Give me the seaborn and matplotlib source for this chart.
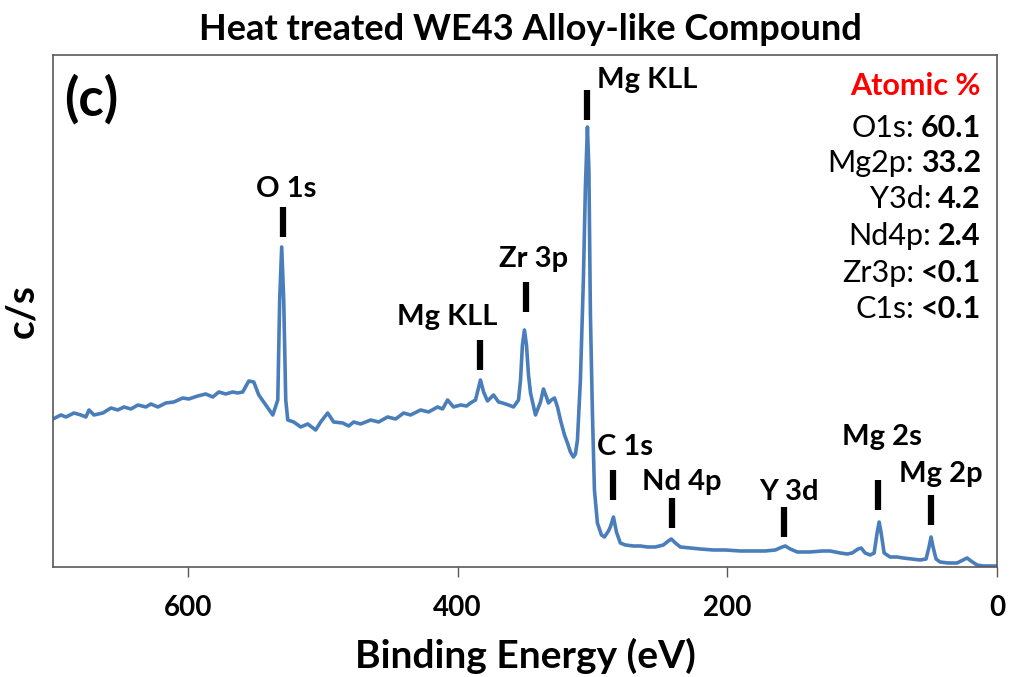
import matplotlib
matplotlib.use("Agg")
import matplotlib.pyplot as plt
import seaborn as sns
import pandas as pd

# XPS survey spectrum of the heat-treated WE43-like compound
binding_energy = [
    700.0, 694.1, 690.4, 684.4, 679.3, 675.6, 673.3, 669.6, 663.0, 657.0,
    651.9, 647.4, 642.2, 637.0, 631.1, 627.4, 622.2, 616.3, 610.4, 603.7,
    599.3, 592.6, 586.7, 581.5, 577.0, 571.9, 566.7, 563.0, 559.3, 554.8,
    551.1, 547.4, 542.2, 537.0, 533.3, 531.9, 530.4, 528.9, 527.4, 525.9,
    521.5, 516.3, 511.1, 505.2, 501.5, 496.3, 491.9, 485.2, 480.7, 477.0,
    471.9, 464.4, 458.5, 451.9, 445.9, 440.0, 434.8, 427.4, 421.5, 414.8,
    411.1, 407.4, 403.0, 397.8, 393.3, 390.4, 386.7, 385.2, 383.0, 380.7,
    377.8, 373.3, 369.6, 366.7, 362.2, 358.5, 354.8, 353.3, 351.9, 350.4,
    348.9, 347.4, 345.9, 342.2, 338.5, 336.3, 334.1, 332.6, 330.4, 328.1,
    325.9, 323.7, 320.7, 318.5, 316.3, 314.1, 312.6, 311.1, 308.9, 306.7,
    305.2, 303.7, 302.6, 301.5, 300.0, 298.5, 296.3, 293.3, 291.1, 288.1,
    286.7, 284.4, 282.2, 279.3, 275.6, 269.6, 264.4, 259.3, 253.3, 247.4,
    243.7, 241.5, 238.5, 234.8, 227.4, 220.0, 210.4, 201.5, 190.4, 179.3,
    171.9, 164.4, 159.3, 157.0, 153.3, 148.1, 138.5, 129.6, 123.7, 116.3,
    111.1, 107.4, 103.0, 100.7, 97.8, 94.1, 91.1, 88.9, 87.4, 85.9,
    83.7, 79.3, 74.1, 69.6, 63.0, 57.0, 52.6, 50.4, 48.9, 47.4,
    45.2, 42.2, 36.3, 29.6, 25.2, 22.2, 19.3, 14.8, 10.4, 5.2,
    0.0,
]
counts = [
    148, 152, 150, 154, 152, 150, 157, 152, 154, 159,
    157, 160, 158, 162, 160, 163, 160, 164, 165, 169,
    168, 171, 173, 170, 175, 173, 175, 174, 175, 186,
    185, 172, 162, 152, 167, 267, 320, 267, 167, 147,
    145, 140, 143, 137, 145, 154, 145, 144, 141, 145,
    143, 147, 145, 150, 148, 154, 152, 157, 155, 160,
    158, 167, 160, 162, 161, 164, 167, 175, 187, 175,
    166, 172, 165, 164, 162, 160, 167, 187, 222, 237,
    222, 192, 174, 152, 165, 178, 170, 164, 167, 169,
    160, 147, 132, 124, 115, 110, 113, 127, 187, 287,
    380, 440, 397, 254, 154, 77, 44, 32, 30, 36,
    40, 50, 35, 24, 22, 21, 21, 20, 20, 22,
    26, 28, 24, 20, 19, 18, 17, 17, 16, 16,
    16, 17, 20, 21, 18, 15, 15, 16, 16, 14,
    13, 14, 18, 19, 14, 12, 14, 34, 45, 34,
    14, 10, 10, 9, 8, 7, 8, 20, 30, 20,
    8, 5, 4, 4, 7, 9, 6, 2, 1, 1,
    1,
]

# Peak assignments: marker energy and the intensity where each marker starts
peak_names = ["O 1s", "Mg KLL", "Zr 3p", "Mg KLL", "C 1s", "Nd 4p", "Y 3d", "Mg 2s", "Mg 2p"]
peak_energy = [529.6, 383.0, 349.6, 303.7, 284.4, 240.7, 157.8, 88.1, 48.9]
marker_start = [330, 197, 255, 447, 67, 39, 30, 57, 42]

# Label placement (centre energy, baseline intensity)
label_energy = [527.4, 407.4, 343.7, 259.3, 275.6, 234.1, 154.1, 85.2, 41.5]
label_baseline = [370, 242, 300, 479, 112, 77, 67, 122, 85]

# Quantification
elements = ["O1s", "Mg2p", "Y3d", "Nd4p", "Zr3p", "C1s"]
atomic_pct = ["60.1", "33.2", "4.2", "2.4", "<0.1", "<0.1"]

x_ticks = [600, 400, 200, 0]

sns.set_theme(style="white")
plt.rcParams["font.family"] = ["Lato", "DejaVu Sans"]
plt.rcParams["text.color"] = "black"
plt.rcParams["axes.labelcolor"] = "black"
plt.rcParams["xtick.color"] = "black"

df = pd.DataFrame({"Binding Energy (eV)": binding_energy, "c/s": counts})

fig = plt.figure(figsize=(10.09, 6.77), dpi=100)
ax = fig.add_axes([0.0525, 0.1625, 0.9356, 0.7563])

sns.lineplot(data=df, x="Binding Energy (eV)", y="c/s", ax=ax,
             color="#4A7EBB", linewidth=2.6, estimator=None)

marker_len = 30
ax.vlines(peak_energy, marker_start, [m + marker_len for m in marker_start],
          colors="black", linewidth=4.5, capstyle="butt")
for name, ex, yb in zip(peak_names, label_energy, label_baseline):
    ax.text(ex, yb, name, ha="center", va="baseline",
            fontsize=21, fontweight="bold", color="black")

ax.set_xlim(700, 0)
ax.set_ylim(0, 512)
ax.set_xticks(x_ticks)
ax.set_xticklabels([str(t) for t in x_ticks], fontsize=20, fontweight="bold")
ax.set_yticks([])
ax.tick_params(axis="x", direction="out", length=7, width=1, color="#595959",
               labelcolor="black", pad=13, bottom=True)
for s in ax.spines.values():
    s.set_color("#595959")
    s.set_linewidth(1.2)
    s.set_visible(True)

ax.set_xlabel("Binding Energy (eV)", fontsize=28, fontweight="bold", labelpad=12)
ax.set_ylabel("c/s", fontsize=28, fontweight="bold", labelpad=10)

fig.text(530 / 1009, 1 - 40 / 677, "Heat treated WE43 Alloy-like Compound",
         ha="center", va="baseline", fontsize=26, fontweight="bold")

ax.text(0.012, 0.914, "(c)", transform=ax.transAxes, ha="left", va="center",
        fontsize=38, fontweight="bold")

# Atomic composition panel
right = 0.983
ax.text(right, (567 - 95) / 512, "Atomic %", transform=ax.transAxes,
        ha="right", va="baseline", fontsize=22, fontweight="bold", color="#FF0000")
row_baselines = [137, 172, 208, 245, 282, 318]
for el, val, yb in zip(elements, atomic_pct, row_baselines):
    vt = ax.text(right, (567 - yb) / 512, val, transform=ax.transAxes,
                 ha="right", va="baseline", fontsize=22, fontweight="bold")
    ax.annotate(el + ":", xy=(0, 0), xycoords=vt, xytext=(-5, 0),
                textcoords="offset points", ha="right", va="bottom", fontsize=22)

fig.savefig("out.png", dpi=100)
